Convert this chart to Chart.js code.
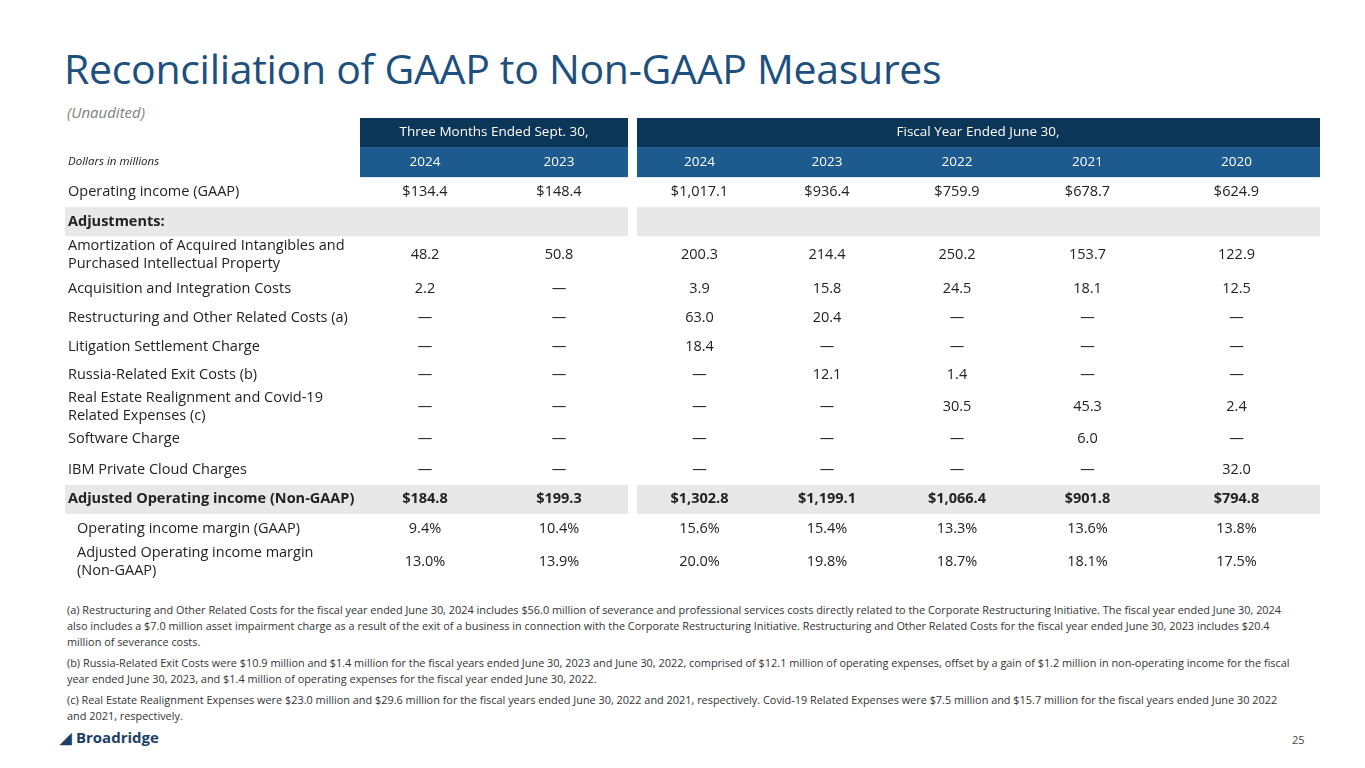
<!DOCTYPE html>
<html><head><meta charset="utf-8">
<script src="https://cdn.jsdelivr.net/npm/chart.js@4"></script>
<style>
body{margin:0;width:1365px;height:768px;background:#fff;font-family:"Open Sans",sans-serif;position:relative;overflow:hidden}
#title{position:absolute;left:64px;top:40px;font-size:41px;color:#1d4f7f;letter-spacing:-0.3px}
#sub{position:absolute;left:67px;top:102px;font-size:15px;font-style:italic;color:#7f7f7f}
#wrap{position:absolute;left:65px;top:118px;width:1255px;height:462px}
.fn{position:absolute;left:67px;width:1228px;font-size:10.9px;line-height:16px;color:#333}
#logo{position:absolute;left:60px;top:727px;font-size:15px;font-weight:bold;color:#1d3e66}
#pg{position:absolute;left:1292px;top:732px;font-size:11px;color:#444}
</style></head><body>
<div id="title">Reconciliation of GAAP to Non-GAAP Measures</div>
<div id="sub">(Unaudited)</div>
<div id="wrap"><canvas id="tbl"></canvas></div>
<div class="fn" style="top:602px">(a) Restructuring and Other Related Costs for the fiscal year ended June 30, 2024 includes $56.0 million of severance and professional services costs directly related to the Corporate Restructuring Initiative. The fiscal year ended June 30, 2024 also includes a $7.0 million asset impairment charge as a result of the exit of a business in connection with the Corporate Restructuring Initiative. Restructuring and Other Related Costs for the fiscal year ended June 30, 2023 includes $20.4 million of severance costs.</div>
<div class="fn" style="top:655px">(b) Russia-Related Exit Costs were $10.9 million and $1.4 million for the fiscal years ended June 30, 2023 and June 30, 2022, comprised of $12.1 million of operating expenses, offset by a gain of $1.2 million in non-operating income for the fiscal year ended June 30, 2023, and $1.4 million of operating expenses for the fiscal year ended June 30, 2022.</div>
<div class="fn" style="top:692px">(c) Real Estate Realignment Expenses were $23.0 million and $29.6 million for the fiscal years ended June 30, 2022 and 2021, respectively. Covid-19 Related Expenses were $7.5 million and $15.7 million for the fiscal years ended June 30 2022 and 2021, respectively.</div>
<div id="logo">&#9698; Broadridge</div>
<div id="pg">25</div>
<script>
// ---------- Data ----------
const groupHeaders = ["Three Months Ended Sept. 30,", "Fiscal Year Ended June 30,"];
const years = ["2024", "2023", "2024", "2023", "2022", "2021", "2020"];
const rowLabels = [
  "Operating income (GAAP)", "Adjustments:",
  "Amortization of Acquired Intangibles and\nPurchased Intellectual Property",
  "Acquisition and Integration Costs", "Restructuring and Other Related Costs (a)",
  "Litigation Settlement Charge", "Russia-Related Exit Costs (b)",
  "Real Estate Realignment and Covid-19\nRelated Expenses (c)", "Software Charge",
  "IBM Private Cloud Charges", "Adjusted Operating income (Non-GAAP)",
  "Operating income margin (GAAP)", "Adjusted Operating income margin\n(Non-GAAP)"
];
const q2024 = ["$134.4","","48.2","2.2","—","—","—","—","—","—","$184.8","9.4%","13.0%"];
const q2023 = ["$148.4","","50.8","—","—","—","—","—","—","—","$199.3","10.4%","13.9%"];
const fy2024 = ["$1,017.1","","200.3","3.9","63.0","18.4","—","—","—","—","$1,302.8","15.6%","20.0%"];
const fy2023 = ["$936.4","","214.4","15.8","20.4","—","12.1","—","—","—","$1,199.1","15.4%","19.8%"];
const fy2022 = ["$759.9","","250.2","24.5","—","—","1.4","30.5","—","—","$1,066.4","13.3%","18.7%"];
const fy2021 = ["$678.7","","153.7","18.1","—","—","—","45.3","6.0","—","$901.8","13.6%","18.1%"];
const fy2020 = ["$624.9","","122.9","12.5","—","—","—","2.4","—","32.0","$794.8","13.8%","17.5%"];
const columns = [q2024, q2023, fy2024, fy2023, fy2022, fy2021, fy2020];

// ---------- Layout (style only) ----------
const dataCols = [[295,425],[425,563],[572,697],[697,827],[827,957],[957,1088],[1088,1255]];
const rowBounds = [[0,29],[29,59],[59,89],[89,118],[118,156],[156,185],[185,214],[214,242],[242,271],[271,305],[305,336],[336,366],[366,395],[395,425],[425,461]];
const boldRows = [1, 10], greyRows = [1, 10], indentRows = [11, 12];

const tablePlugin = {
  id: "table",
  afterDraw(chart) {
    const c = chart.ctx, xs = chart.scales.x, ys = chart.scales.y;
    const X = v => xs.getPixelForValue(v), Y = v => ys.getPixelForValue(v);
    c.save();
    c.fillStyle = "#0b3658";
    c.fillRect(X(295), Y(0), X(563) - X(295), Y(29) - Y(0));
    c.fillRect(X(572), Y(0), X(1255) - X(572), Y(29) - Y(0));
    c.fillStyle = "#1d5a8e";
    c.fillRect(X(295), Y(29), X(563) - X(295), Y(59) - Y(29));
    c.fillRect(X(572), Y(29), X(1255) - X(572), Y(59) - Y(29));
    c.textBaseline = "middle"; c.textAlign = "center"; c.fillStyle = "#fff";
    c.font = "13.5px 'Open Sans'";
    c.fillText(groupHeaders[0], X(429), Y(14.5));
    c.fillText(groupHeaders[1], X(913), Y(14.5));
    years.forEach((y, i) => c.fillText(y, X((dataCols[i][0] + dataCols[i][1]) / 2), Y(44)));
    c.textAlign = "left"; c.fillStyle = "#222"; c.font = "italic 11.5px 'Open Sans'";
    c.fillText("Dollars in millions", X(3), Y(44));
    rowLabels.forEach((lab, r) => {
      const [t, b] = rowBounds[r + 2], mid = (t + b) / 2;
      if (greyRows.includes(r)) {
        c.fillStyle = "#e8e8e8";
        c.fillRect(X(0), Y(t), X(563) - X(0), Y(b) - Y(t));
        c.fillRect(X(572), Y(t), X(1255) - X(572), Y(b) - Y(t));
      }
      const bold = boldRows.includes(r) ? "bold " : "";
      c.font = bold + "14.5px 'Open Sans'"; c.fillStyle = "#222"; c.textAlign = "left";
      const lines = lab.split("\n"), x0 = indentRows.includes(r) ? 12 : 3;
      lines.forEach((ln, k) => c.fillText(ln, X(x0), Y(mid + (k - (lines.length - 1) / 2) * 18)));
      c.textAlign = "center";
      columns.forEach((col, i) => c.fillText(col[r], X((dataCols[i][0] + dataCols[i][1]) / 2), Y(mid)));
    });
    c.restore();
  }
};

new Chart(document.getElementById("tbl"), {
  type: "scatter",
  data: { datasets: [{ data: [] }] },
  options: {
    responsive: true, maintainAspectRatio: false, animation: false,
    layout: { padding: 0 },
    plugins: { legend: { display: false }, tooltip: { enabled: false } },
    scales: {
      x: { type: "linear", min: 0, max: 1255, display: false },
      y: { type: "linear", min: 0, max: 461, reverse: true, display: false }
    }
  },
  plugins: [tablePlugin]
});
</script>
</body></html>
